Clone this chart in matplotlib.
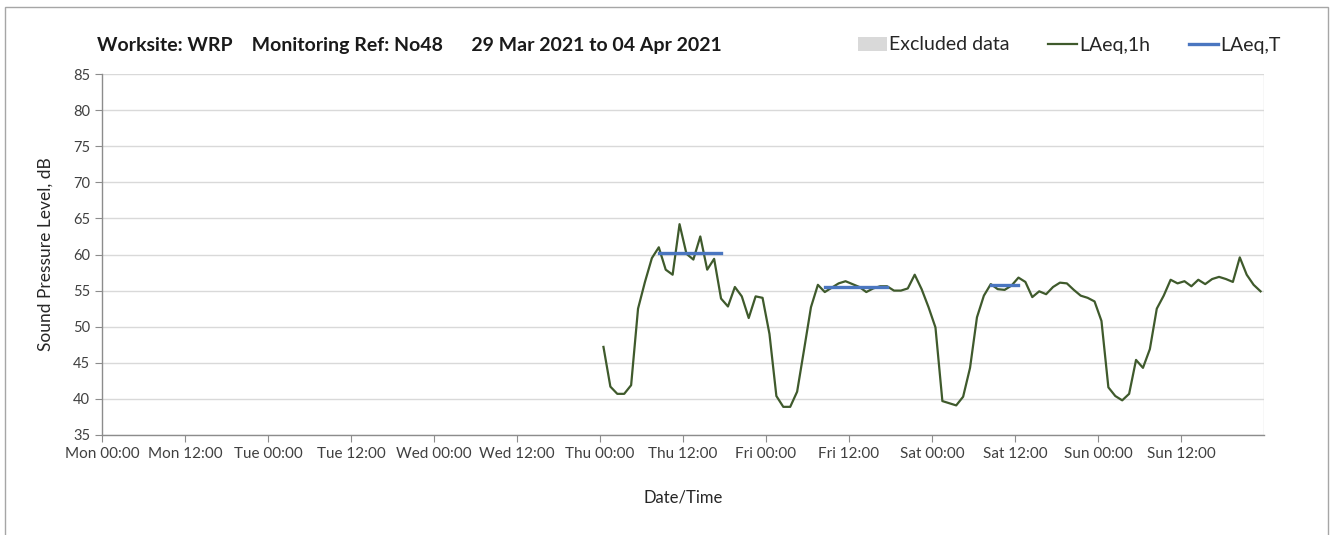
import numpy as np
import matplotlib
matplotlib.use("Agg")
import matplotlib.pyplot as plt
from matplotlib.patches import Patch, Rectangle
from matplotlib.lines import Line2D

# hourly LAeq,1h values, Thu 00:30 onwards (hours from Mon 00:00)
start_hour = 72.5
laeq_1h = [
    47.2, 41.7, 40.7, 40.7, 41.9, 52.5, 56.2, 59.5, 61.0, 57.9, 57.2, 64.2,
    60.1, 59.3, 62.5, 57.9, 59.4, 53.9, 52.8, 55.5, 54.2, 51.2, 54.2, 54.0,
    49.0, 40.4, 38.9, 38.9, 41.0, 46.8, 52.7, 55.8, 54.8, 55.4, 56.0, 56.3,
    55.9, 55.5, 54.8, 55.3, 55.6, 55.6, 55.0, 55.0, 55.3, 57.2, 55.2, 52.7,
    49.9, 39.7, 39.4, 39.1, 40.3, 44.3, 51.3, 54.3, 55.9, 55.2, 55.1, 55.7,
    56.8, 56.2, 54.1, 54.9, 54.5, 55.5, 56.1, 56.0, 55.1, 54.3, 54.0, 53.5,
    50.8, 41.6, 40.4, 39.8, 40.7, 45.4, 44.3, 46.9, 52.5, 54.3, 56.5, 56.0,
    56.3, 55.6, 56.5, 55.9, 56.6, 56.9, 56.6, 56.2, 59.6, 57.2, 55.8, 54.9,
]

# LAeq,T periods: (start hour, end hour, level)
laeq_t_start = [80.5, 104.5, 128.5]
laeq_t_end = [89.5, 113.5, 132.5]
laeq_t_level = [60.2, 55.5, 55.8]

days = ['Mon', 'Tue', 'Wed', 'Thu', 'Fri', 'Sat', 'Sun']
tick_labels = [f'{d} {t}' for d in days for t in ('00:00', '12:00')]

green = '#3f5a2c'
blue = '#4a76c0'
grey = '#d9d9d9'

plt.rcParams['font.family'] = ['Lato', 'DejaVu Sans']

fig = plt.figure(figsize=(13.36, 5.35), dpi=100)
ax = fig.add_axes([102 / 1336, 1 - 435 / 535, (1264 - 102) / 1336, (435 - 74) / 535])

hours = start_hour + np.arange(len(laeq_1h))
ax.plot(hours, laeq_1h, color=green, lw=1.6, zorder=3)
for s, e, v in zip(laeq_t_start, laeq_t_end, laeq_t_level):
    ax.plot([s, e], [v, v], color=blue, lw=2.4, zorder=4)

ax.set_xlim(0, 168)
ax.set_ylim(35, 85)
ax.set_yticks(np.arange(35, 86, 5))
ax.set_xticks(np.arange(0, 168, 12))
ax.set_xticklabels(tick_labels)
ax.set_xticks(np.arange(0, 169, 24), minor=True)
ax.tick_params(axis='x', which='minor', length=0)
ax.tick_params(axis='both', which='major', length=5, color='#8c8c8c',
               labelsize=10.5, labelcolor='#404040', direction='out')
ax.tick_params(axis='x', which='major', labelsize=11, pad=4)

ax.grid(axis='y', color=grey, lw=1)
ax.grid(axis='x', which='minor', color=grey, lw=1)
ax.grid(axis='x', which='major', visible=False)
ax.set_axisbelow(True)
for side in ('top', 'right'):
    ax.spines[side].set_visible(False)
for side in ('left', 'bottom'):
    ax.spines[side].set_color('#8c8c8c')
    ax.spines[side].set_linewidth(1)

ax.set_ylabel('Sound Pressure Level, dB', fontsize=12.5, color='#262626', labelpad=14)
ax.set_xlabel('Date/Time', fontsize=12, color='#262626', labelpad=20)

fig.text(97 / 1336, 1 - 45 / 535,
         'Worksite: WRP    Monitoring Ref: No48      29 Mar 2021 to 04 Apr 2021',
         fontsize=14, fontweight='bold', va='center', color='#1a1a1a')

handles = [Patch(facecolor=grey, edgecolor='none'),
           Line2D([], [], color=green, lw=1.6),
           Line2D([], [], color=blue, lw=2.4)]
fig.legend(handles, ['Excluded data', 'LAeq,1h', 'LAeq,T'], ncol=3, frameon=False,
           loc='center right', bbox_to_anchor=(1298 / 1336, 1 - 45 / 535),
           fontsize=14, handlelength=1.5, handletextpad=0.1, columnspacing=2.0,
           labelcolor='#262626')

fig.add_artist(Rectangle((5 / 1336, -0.05), (1328 - 5) / 1336, 1.05 - 7 / 535,
                         transform=fig.transFigure, fill=False,
                         edgecolor='#a6a6a6', lw=1))

fig.savefig('out.png', dpi=100)
